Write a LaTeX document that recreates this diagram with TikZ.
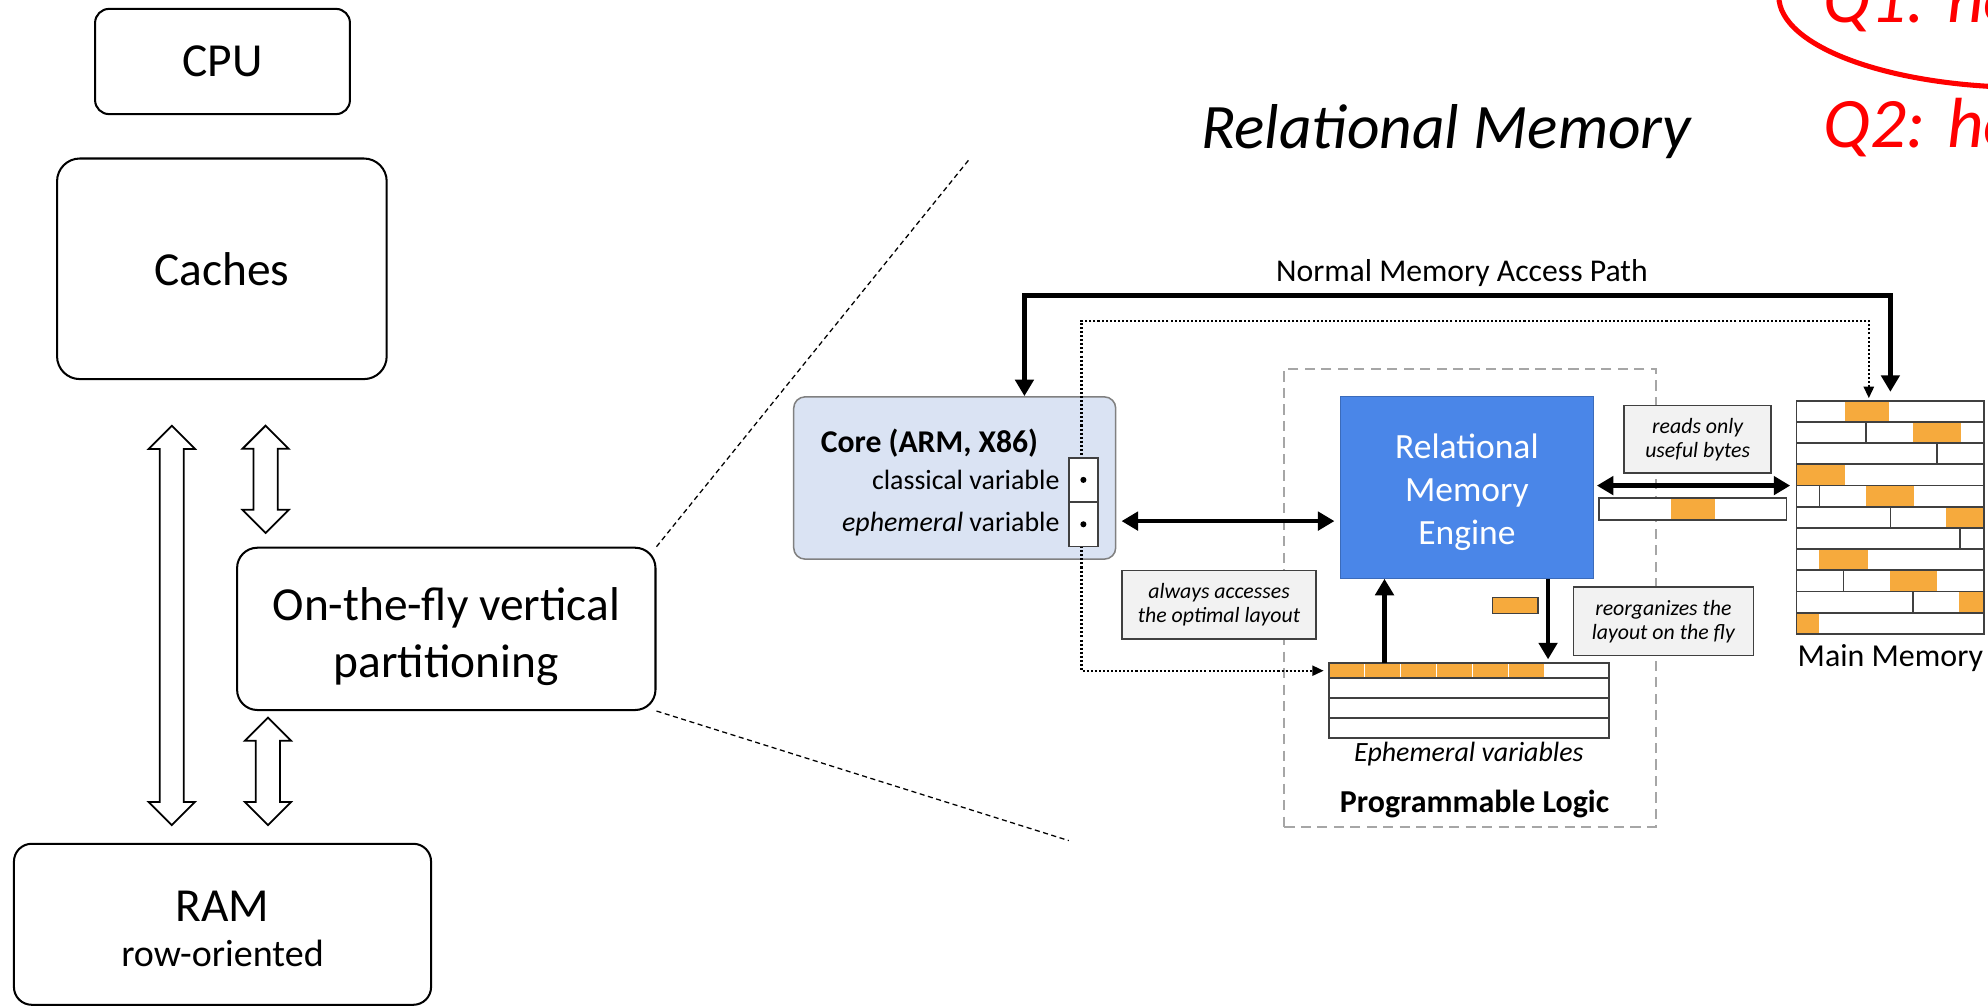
\documentclass[tikz,border=0pt]{standalone}
\usepackage{fontspec}
\setmainfont{Carlito}
\usepackage{tikz}
\usetikzlibrary{arrows.meta,positioning,shapes.arrows}
\definecolor{chunk}{RGB}{246,170,61}
\definecolor{rmeblue}{RGB}{74,134,232}
\definecolor{corefill}{RGB}{218,227,243}
\definecolor{notefill}{RGB}{242,242,242}
\definecolor{darkline}{RGB}{64,64,64}
\definecolor{plgray}{RGB}{166,166,166}
\tikzstyle{hwbox}    = [draw,rectangle,rounded corners=8pt,line width=0.8pt,align=center,inner sep=0pt,font=\fontsize{18.7}{22.4}\selectfont]
\tikzstyle{hwtext}   = [align=center,inner sep=0pt,font=\fontsize{18.7}{22.4}\selectfont]
\tikzstyle{blockarr} = [double arrow,draw,line width=0.7pt,rotate=90,inner sep=4.4pt,double arrow head extend=4.4pt,double arrow tip angle=90]
\tikzstyle{note}     = [draw=darkline,fill=notefill,rectangle,line width=0.6pt,align=center,inner sep=0pt,font=\fontsize{8.6}{9.5}\selectfont\itshape]
\tikzstyle{cell}     = [draw=darkline,fill=white,rectangle,line width=0.7pt,inner sep=0pt,outer sep=0pt]
\tikzstyle{thickarr} = [line width=1.85pt,>={Triangle[length=6.5pt,width=7.2pt]}]
\tikzstyle{dotarr}   = [line width=0.8pt,dash pattern=on 0.8pt off 0.8pt,>={Triangle[length=4.5pt,width=4pt]}]
\tikzstyle{zoomline} = [line width=0.5pt,dash pattern=on 2pt off 1.4pt]
\tikzstyle{question} = [font=\fontsize{28}{33}\selectfont\itshape,text=red,anchor=base west,inner sep=0pt]

\begin{document}
\begin{tikzpicture}[x=0.5pt,y=-0.5pt]
\useasboundingbox (0,0) rectangle (1568,794);
\clip (0,0) rectangle (1568,794);

\node[hwbox,rounded corners=5.5pt,minimum width=100.5pt,minimum height=41.5pt] (cpu) at (175.5,48.5) {CPU};
\node[hwbox,rounded corners=9pt,minimum width=130pt,minimum height=87pt] (caches) at (175,212) {Caches};
\node[hwbox,minimum width=165pt,minimum height=64pt] (otf) at (352,496) {};
\node[hwtext] (otftext) at ([yshift=-3pt]otf.center) {On-the-fly vertical\\partitioning};
\node[hwbox,rounded corners=7pt,minimum width=164.5pt,minimum height=63.5pt] (ram) at (175.5,729) {};
\node[hwtext] (ramtext) at ([yshift=-2pt]ram.center) {RAM\\[-4.7pt]{\fontsize{15}{17.7}\selectfont row-oriented}};

\node[blockarr,minimum height=157.5pt] (busA) at (135.5,493.3) {};
\node[blockarr,minimum height=42.3pt] (busB) at (209.5,378) {};
\node[blockarr,minimum height=42.4pt] (busC) at (211.3,608.4) {};

\coordinate (zoomtop) at (765,125);
\coordinate (zoombot) at (843,663);
\draw[zoomline] (otf.north east) -- (zoomtop);
\draw[zoomline] (otf.south east) -- (zoombot);

\node[font=\fontsize{25}{30}\selectfont\itshape,anchor=base west,inner sep=0pt] (rmtitle) at (947,117) {Relational Memory};
\node[question] (qone) at (1438,18) {Q1: ho};
\node[question] (qtwo) at (1438,116) {Q2: ho};
\draw[red,line width=2pt] (1600,-3) ellipse [x radius=98.5pt,y radius=36pt];

\node[draw=plgray,dash pattern=on 4pt off 2.5pt,line width=0.8pt,minimum width=146.5pt,minimum height=180.5pt,inner sep=0pt] (pl) at (1159.5,471.5) {};
\node[font=\fontsize{12.6}{15}\selectfont\bfseries,anchor=base,inner sep=0pt] (pllabel) at (1163,641) {Programmable Logic};

\node[fill=rmeblue,draw=rmeblue!80!black,line width=0.5pt,minimum width=100pt,minimum height=71.5pt] (engine) at (1157,384.5) {};
\node[align=center,text=white,inner sep=0pt,font=\fontsize{14}{17}\selectfont] (enginetext) at ([yshift=-2pt]engine.center) {Relational\\Memory\\Engine};

\node[fill=corefill,draw=gray,rounded corners=4.5pt,line width=0.6pt,minimum width=127pt,minimum height=64pt] (core) at (753,377) {};
\node[anchor=base west,inner sep=0pt,font=\fontsize{12.5}{15}\selectfont\bfseries] (coretitle) at (647,357) {Core (ARM, X86)};
\node[anchor=base east,inner sep=0pt,font=\fontsize{11}{13}\selectfont] (classvar) at (836,386) {classical variable};
\node[anchor=base east,inner sep=0pt,font=\fontsize{11}{13}\selectfont] (ephvar) at (836,419) {\textit{ephemeral} variable};

\node[cell,minimum width=110.5pt,minimum height=6pt,anchor=north west] (ephrow) at (1048,523) {};
\foreach \i in {0,...,5}
  \fill[chunk] (1048+28.33*\i,523) rectangle +(28.33,12);
\foreach \i in {1,...,5}
  \draw[white,line width=0.6pt] (1048+28.33*\i,523) -- +(0,12);
\draw[darkline,line width=0.7pt] (ephrow.north west) rectangle (ephrow.south east);
\node[cell,minimum width=110.5pt,minimum height=7.8pt,below=0pt of ephrow] (ephrowB) {};
\node[cell,minimum width=110.5pt,minimum height=7.8pt,below=0pt of ephrowB] (ephrowC) {};
\node[cell,minimum width=110.5pt,minimum height=7.8pt,below=0pt of ephrowC] (ephrowD) {};
\node[font=\fontsize{11}{13}\selectfont\itshape,inner sep=0pt,below=1.5pt of ephrowD] (ephlabel) {Ephemeral variables};

\node[cell,minimum width=74pt,minimum height=92pt] (mainmem) at (1491,408) {};
\foreach \r/\a/\b in {1/38/73,2/92/130,4/0/38,5/55/93,6/118/148,8/18/56,9/74/111,10/128/148,11/0/18}
  \fill[chunk] (1417+\a,316+16.727*\r-16.727) rectangle (1417+\b,316+16.727*\r);
\foreach \r in {1,...,10}
  \draw[darkline,line width=0.7pt] (1417,316+16.727*\r) -- (1565,316+16.727*\r);
\foreach \r/\d in {2/55,3/111,5/18,6/74,7/129,9/37,10/92}
  \draw[darkline,line width=0.7pt] (1417+\d,316+16.727*\r-16.727) -- +(0,16.727);
\draw[darkline,line width=0.7pt] (mainmem.north west) rectangle (mainmem.south east);
\node[font=\fontsize{12.6}{15}\selectfont,inner sep=0pt,below=4pt of mainmem] (mmlabel) {Main Memory};

\node[cell,minimum width=74pt,minimum height=8.5pt] (readbar) at (1335,401.5) {};
\fill[chunk] (1318,393) rectangle (1353,410);
\draw[darkline,line width=0.7pt] (readbar.north west) rectangle (readbar.south east);
\node[fill=chunk,draw=darkline,line width=0.5pt,minimum width=18pt,minimum height=6.5pt,inner sep=0pt] (movedchunk) at (1195,477.5) {};

\node[note,minimum width=76.5pt,minimum height=27pt] (accnote) at (961.5,477) {always accesses\\the optimal layout};
\node[note,minimum width=58pt,minimum height=26.5pt] (readnote) at (1339,346.5) {reads only\\useful bytes};
\node[note,minimum width=71pt,minimum height=27pt] (reorgnote) at (1312,490) {reorganizes the\\layout on the fly};

\coordinate (pathL) at (808,233);
\coordinate (pathR) at (1491,233);
\coordinate (dotL) at (853,253);
\coordinate (dotR) at (1474,253);
\node[font=\fontsize{12.5}{15}\selectfont,anchor=base,inner sep=0pt] (pathlabel) at (1153,222) {Normal Memory Access Path};

\draw[thickarr,<->,shorten >=3.5pt] (core.north -| pathL) -- (pathL) -- (pathR) -- (mainmem.north -| pathR);
\draw[dotarr,<->,shorten <=1pt,shorten >=2pt] (mainmem.north -| dotR) -- (dotR) -- (dotL) |- (ephrow.west);

\node[cell,minimum width=11.5pt,minimum height=17.5pt] (cellA) at (854.5,378.5) {};
\node[cell,minimum width=11.5pt,minimum height=17.5pt,below=0pt of cellA] (cellB) {};
\fill (cellA) circle (1.2pt);
\fill (cellB) circle (1.2pt);

\draw[thickarr,<->,shorten <=2pt,shorten >=2pt] (core.east |- 0,411) -- (engine.west |- 0,411);
\draw[thickarr,<->,shorten <=1pt,shorten >=2.5pt] (engine.east |- 0,383) -- (mainmem.west |- 0,383);
\draw[thickarr,->] (1092,0 |- ephrow.north) -- (1092,0 |- engine.south);
\draw[thickarr,->,shorten >=1.5pt] (1221,0 |- engine.south) -- (1221,0 |- ephrow.north);

\end{tikzpicture}
\end{document}
